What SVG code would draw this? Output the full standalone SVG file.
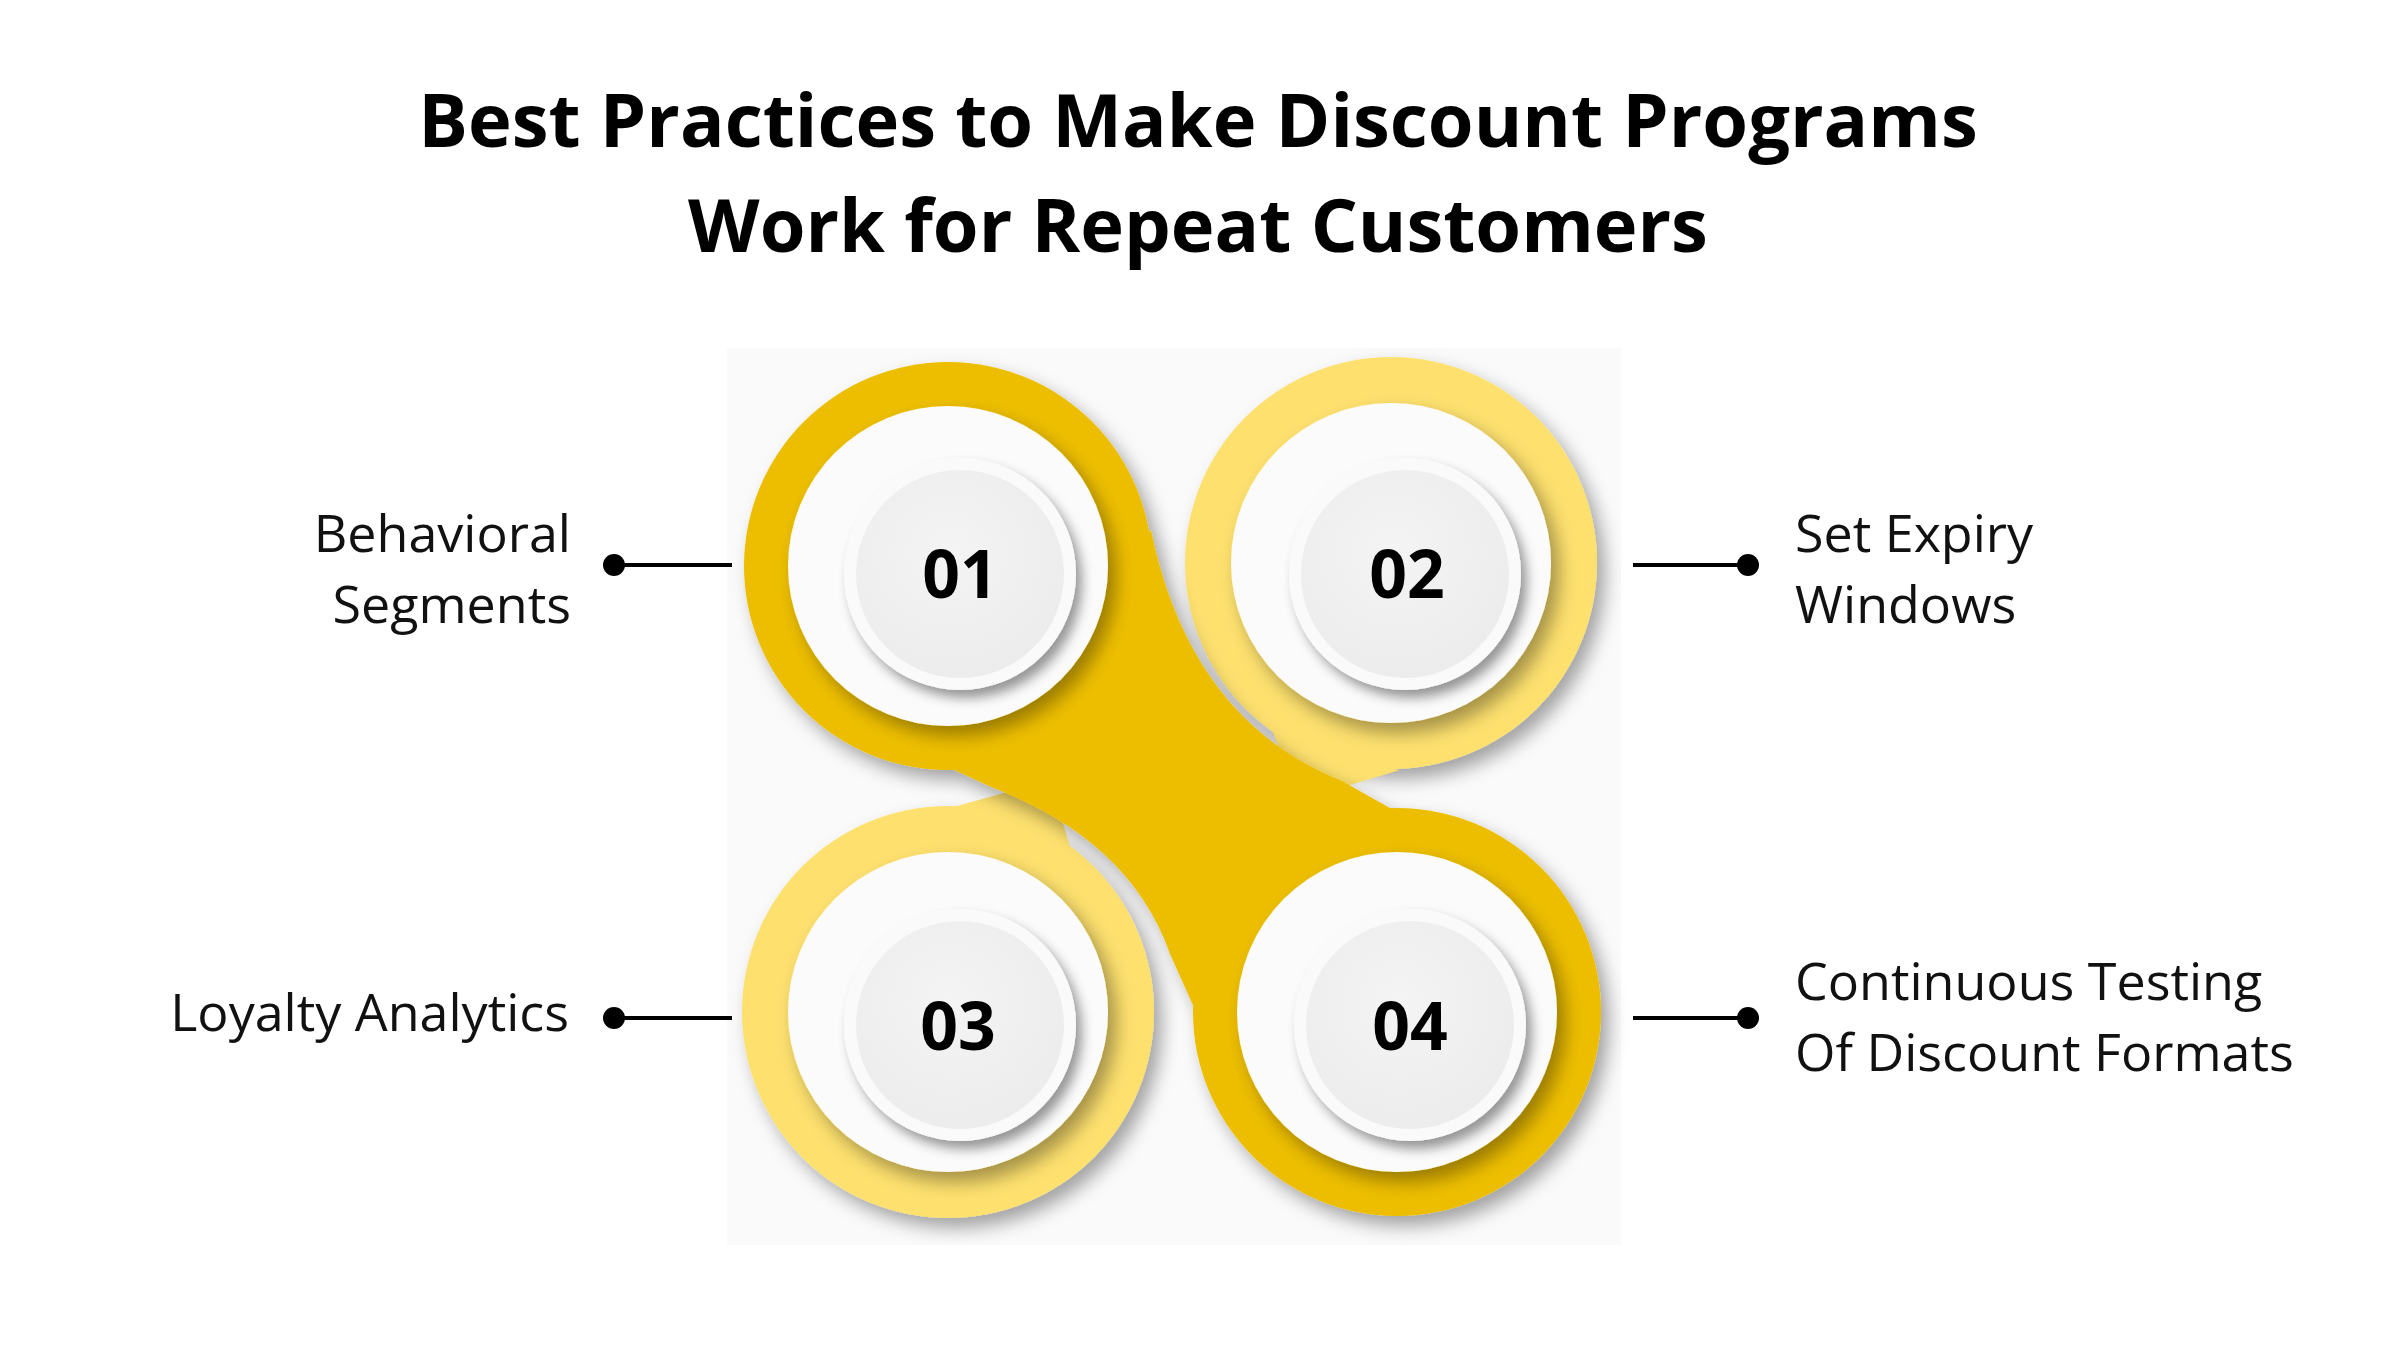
<svg xmlns="http://www.w3.org/2000/svg" width="2400" height="1350" viewBox="0 0 2400 1350">
<defs>
<filter id="sh" x="-30%" y="-30%" width="160%" height="160%"><feDropShadow dx="8" dy="10" stdDeviation="9" flood-color="#000" flood-opacity="0.35"/></filter>
<filter id="sh2" x="-30%" y="-30%" width="160%" height="160%"><feDropShadow dx="6" dy="8" stdDeviation="6" flood-color="#000" flood-opacity="0.4"/></filter>
<radialGradient id="btn" cx="45%" cy="40%" r="60%"><stop offset="0" stop-color="#f4f4f4"/><stop offset="1" stop-color="#ececec"/></radialGradient>
</defs>
<style>
.t{font-family:"Open Sans","Noto Sans",sans-serif;font-weight:700;font-size:74px;fill:#000;text-anchor:middle}
.l{font-family:"Open Sans","Noto Sans",sans-serif;font-weight:500;font-size:52px;fill:#111}
.n{font-family:"Open Sans","Noto Sans",sans-serif;font-weight:700;font-size:66px;fill:#000;text-anchor:middle}
.hole{fill:#fbfbfb;filter:url(#sh)}
.b{fill:url(#btn);stroke:#fafafa;stroke-width:12;filter:url(#sh2)}
.c{stroke:#000;stroke-width:4}
</style>
<rect width="2400" height="1350" fill="#fff"/>
<text class="t" x="1198" y="147">Best Practices to Make Discount Programs</text>
<text class="t" x="1198" y="252">Work for Repeat Customers</text>
<rect x="727" y="348" width="894" height="897" fill="#fafafa"/>
<g id="shape">
<circle cx="1391" cy="563" r="206" fill="#fde06e" filter="url(#sh)"/>
<circle cx="948" cy="1012" r="206" fill="#fde06e" filter="url(#sh)"/>
<path d="M1260 700 Q1320 760 1400 770 L1300 800 Z M1080 880 Q1000 810 950 808 L1050 780 Z" fill="#fde06e"/>
<g fill="#edbe00" filter="url(#sh)">
<circle cx="948" cy="566" r="204"/>
<circle cx="1397" cy="1012" r="204"/>
<path d="M1151 530 Q1190 720 1342 781 L1397 812 L1196 1012 L1170 954 Q1130 840 991 787 L948 767 Z"/>
</g>
</g>
<g id="n1"><circle class="hole" cx="948" cy="566" r="160"/><circle class="b" cx="960" cy="574" r="110"/><text class="n" x="960" y="598">01</text></g>
<g id="n2"><circle class="hole" cx="1391" cy="563" r="160"/><circle class="b" cx="1405" cy="574" r="110"/><text class="n" x="1407" y="598">02</text></g>
<g id="n3"><circle class="hole" cx="948" cy="1012" r="160"/><circle class="b" cx="960" cy="1025" r="110"/><text class="n" x="958" y="1050">03</text></g>
<g id="n4"><circle class="hole" cx="1397" cy="1012" r="160"/><circle class="b" cx="1410" cy="1025" r="110"/><text class="n" x="1410" y="1050">04</text></g>
<g id="connectors">
<line class="c" x1="614" y1="565" x2="732" y2="565"/><circle cx="614" cy="565" r="11"/>
<line class="c" x1="1633" y1="565" x2="1748" y2="565"/><circle cx="1748" cy="565" r="11"/>
<line class="c" x1="614" y1="1018" x2="732" y2="1018"/><circle cx="614" cy="1018" r="11"/>
<line class="c" x1="1633" y1="1018" x2="1748" y2="1018"/><circle cx="1748" cy="1018" r="11"/>
</g>
<g id="labels">
<text class="l" x="571" y="552" text-anchor="end">Behavioral</text>
<text class="l" x="571" y="623" text-anchor="end">Segments</text>
<text class="l" x="569" y="1031" text-anchor="end">Loyalty Analytics</text>
<text class="l" x="1795" y="552">Set Expiry</text>
<text class="l" x="1795" y="623">Windows</text>
<text class="l" x="1795" y="1000">Continuous Testing</text>
<text class="l" x="1795" y="1071">Of Discount Formats</text>
</g>
</svg>
